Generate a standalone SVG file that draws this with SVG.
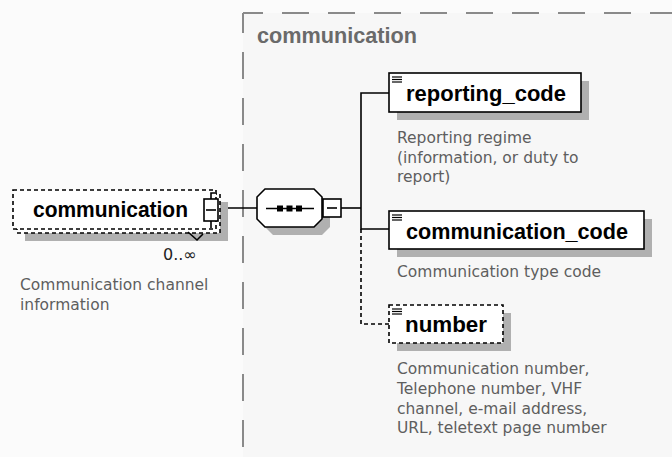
<svg xmlns="http://www.w3.org/2000/svg" width="672" height="457" viewBox="0 0 672 457">
<defs>
<style>
.bg{fill:#fbfbfb}
.area{fill:#f7f7f7}
.areaedge{fill:none;stroke:#8a8a8a;stroke-width:2;stroke-dasharray:27 19;stroke-dashoffset:7}
.shadow{fill:#b0b0b0}
.box{fill:#ffffff;stroke:#000;stroke-width:1.6}
.dbox{fill:#ffffff;stroke:#000;stroke-width:1.6;stroke-dasharray:4 3}
.lbl{font-family:"Liberation Sans",Arial,sans-serif;font-weight:bold;font-size:22.5px;fill:#000}
.hdr{font-family:"Liberation Sans",Arial,sans-serif;font-weight:bold;font-size:22px;fill:#6a6a6a}
.desc{font-family:"DejaVu Sans",Verdana,sans-serif;font-size:15.5px;fill:#5e5e5e}
.occ{font-family:"DejaVu Sans",Verdana,sans-serif;font-size:16px;fill:#222}
.wire{fill:none;stroke:#000;stroke-width:1.6}
.dwire{fill:none;stroke:#000;stroke-width:1.6;stroke-dasharray:4 3}
.icon{stroke:#000;stroke-width:1.2}
</style>
</defs>
<rect class="bg" x="0" y="0" width="672" height="457"/>
<g id="complexType-area">
<rect class="area" x="243" y="13" width="429" height="444"/>
<path class="areaedge" d="M243,13 H672"/>
<path class="areaedge" d="M243,13 V457"/>
<text class="hdr" x="257" y="43" textLength="160" lengthAdjust="spacingAndGlyphs">communication</text>
</g>
<g id="connectors">
<line class="wire" x1="218" y1="208" x2="257" y2="208"/>
<line class="wire" x1="341" y1="208" x2="361" y2="208"/>
<path class="wire" d="M389,93 H361 V229 H389"/>
<path class="dwire" d="M361,229 V324 H389"/>
</g>
<g id="node-communication">
<rect class="shadow" x="25" y="202" width="203" height="39"/>
<rect class="dbox" x="17" y="194" width="203" height="39"/>
<rect class="dbox" x="13" y="190" width="203" height="39"/>
<text class="lbl" x="33" y="217" textLength="155" lengthAdjust="spacingAndGlyphs">communication</text>
<path class="wire" d="M211,199 V193 H215"/>
<line class="wire" x1="211" y1="221" x2="211" y2="228"/>
<rect class="box" x="204" y="199" width="14" height="22"/>
<line class="wire" x1="206" y1="210" x2="216" y2="210"/>
<path class="wire" d="M188,232 L197,240 L203,234"/>
<text class="occ" x="163" y="260">0..∞</text>
<text class="desc" x="20" y="290">Communication channel</text>
<text class="desc" x="20" y="310">information</text>
</g>
<g id="node-sequence">
<polygon class="shadow" points="273,197 322,197 330,205 330,227 322,235 273,235 265,227 265,205"/>
<polygon class="box" points="265,189 314,189 322,197 322,219 314,227 265,227 257,219 257,197"/>
<line class="wire" x1="266" y1="208.5" x2="314" y2="208.5"/>
<rect x="277" y="205.5" width="6" height="6" fill="#000"/>
<rect x="286.5" y="205.5" width="6" height="6" fill="#000"/>
<rect x="296" y="205.5" width="6" height="6" fill="#000"/>
<rect class="box" x="323" y="199" width="18" height="18"/>
<line class="wire" x1="327" y1="208" x2="337" y2="208"/>
</g>
<g id="node-reporting_code">
<rect class="shadow" x="397" y="81" width="192" height="39"/>
<rect class="box" x="389" y="73" width="192" height="39"/>
<line class="icon" x1="392" y1="77" x2="402" y2="77"/>
<line class="icon" x1="392" y1="79.5" x2="402" y2="79.5"/>
<line class="icon" x1="392" y1="82" x2="402" y2="82"/>
<text class="lbl" x="406" y="101" textLength="160" lengthAdjust="spacingAndGlyphs">reporting_code</text>
<text class="desc" x="397" y="143">Reporting regime</text>
<text class="desc" x="397" y="163">(information, or duty to</text>
<text class="desc" x="397" y="182">report)</text>
</g>
<g id="node-communication_code">
<rect class="shadow" x="397" y="219" width="255" height="38"/>
<rect class="box" x="389" y="211" width="255" height="38"/>
<line class="icon" x1="392" y1="215" x2="402" y2="215"/>
<line class="icon" x1="392" y1="217.5" x2="402" y2="217.5"/>
<line class="icon" x1="392" y1="220" x2="402" y2="220"/>
<text class="lbl" x="406" y="239" textLength="222" lengthAdjust="spacingAndGlyphs">communication_code</text>
<text class="desc" x="397" y="277">Communication type code</text>
</g>
<g id="node-number">
<rect class="shadow" x="397" y="313" width="114" height="38"/>
<rect class="dbox" x="389" y="305" width="114" height="38"/>
<line class="icon" x1="392" y1="309" x2="402" y2="309"/>
<line class="icon" x1="392" y1="311.5" x2="402" y2="311.5"/>
<line class="icon" x1="392" y1="314" x2="402" y2="314"/>
<text class="lbl" x="405" y="332" textLength="82" lengthAdjust="spacingAndGlyphs">number</text>
<text class="desc" x="397" y="374">Communication number,</text>
<text class="desc" x="397" y="394">Telephone number, VHF</text>
<text class="desc" x="397" y="414">channel, e-mail address,</text>
<text class="desc" x="397" y="433">URL, teletext page number</text>
</g>
</svg>
